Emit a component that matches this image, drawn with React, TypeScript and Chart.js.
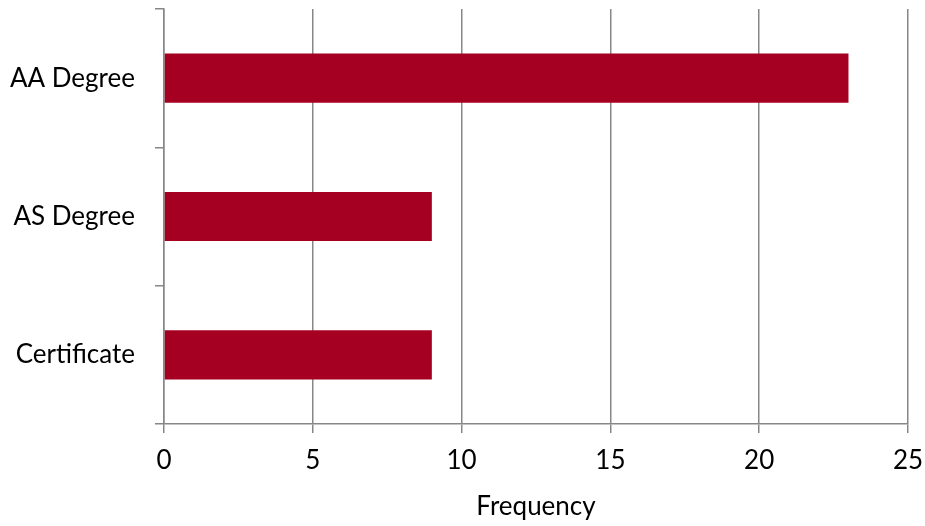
import React, { useEffect, useRef } from "react";
import { Chart, registerables } from "chart.js";

Chart.register(...registerables);

const categories = ["AA Degree", "AS Degree", "Certificate"];
const frequency = [23, 9, 9];
const xTicks = [0, 5, 10, 15, 20, 25];

const FONT = "Lato, 'Open Sans', sans-serif";
const GRID = "#878787";

export default function App() {
  const ref = useRef<HTMLCanvasElement | null>(null);
  useEffect(() => {
    document.body.style.margin = "0";
    const ctx = ref.current!;
    const chart = new Chart(ctx, {
      type: "bar",
      data: {
        labels: categories,
        datasets: [
          {
            data: frequency,
            backgroundColor: "#A50021",
            borderWidth: 0,
            categoryPercentage: 1,
            barPercentage: 0.355,
          },
        ],
      },
      options: {
        indexAxis: "y",
        animation: false,
        responsive: false,
        layout: { padding: { left: 0, right: 17, top: 9, bottom: 0 } },
        plugins: { legend: { display: false }, tooltip: { enabled: false } },
        scales: {
          x: {
            min: 0,
            max: 25,
            afterBuildTicks: (s: any) => {
              s.ticks = xTicks.map((v) => ({ value: v }));
            },
            afterFit: (s: any) => {
              s.height = 102;
              s.paddingLeft = 0;
              s.paddingRight = 0;
            },
            grid: {
              color: GRID,
              lineWidth: 1.5,
              tickLength: 9,
              tickColor: GRID,
            },
            border: { color: GRID, width: 1.5 },
            ticks: {
              color: "#000",
              font: { family: FONT, size: 26 },
              padding: 12,
            },
            title: {
              display: true,
              text: "Frequency",
              color: "#000",
              font: { family: FONT, size: 26 },
              padding: { top: 4, bottom: 4 },
            },
          },
          y: {
            afterFit: (s: any) => {
              s.width = 164;
              s.paddingTop = 0;
              s.paddingBottom = 0;
            },
            grid: {
              display: true,
              drawOnChartArea: false,
              drawTicks: true,
              tickLength: 9,
              tickColor: GRID,
              lineWidth: 1.5,
              offset: true,
            },
            border: { color: GRID, width: 1.5 },
            ticks: {
              color: "#000",
              font: { family: FONT, size: 26 },
              padding: 20,
            },
          },
        },
      },
    });
    return () => chart.destroy();
  }, []);
  return (
    <div style={{ width: 925, height: 526 }}>
      <canvas ref={ref} width={925} height={526} style={{ display: "block" }} />
    </div>
  );
}
